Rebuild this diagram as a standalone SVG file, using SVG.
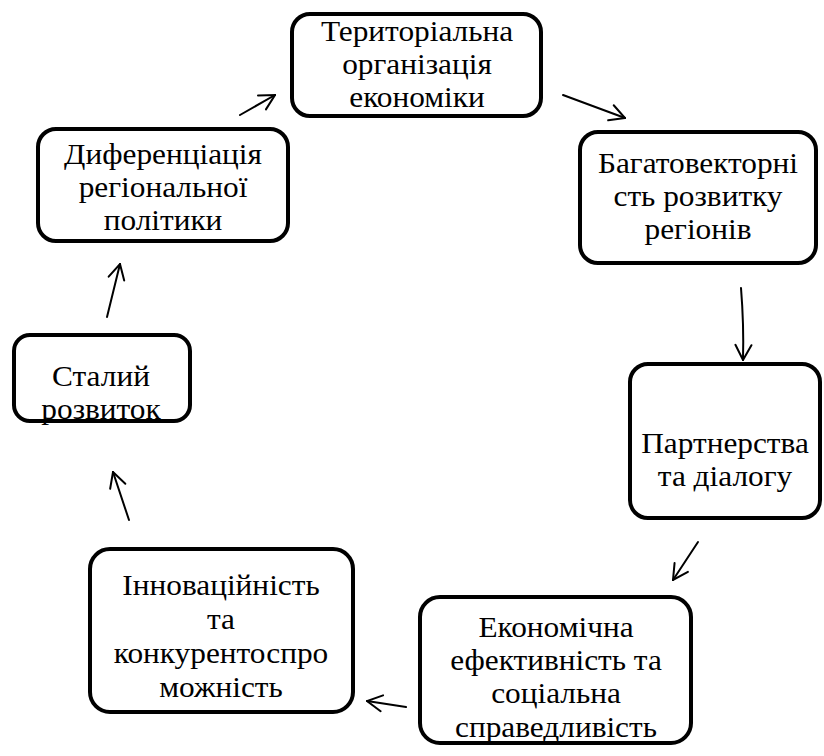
<svg xmlns="http://www.w3.org/2000/svg" width="824" height="756" viewBox="0 0 824 756">
<defs>
<style>
.box{fill:#fff;stroke:#000;stroke-width:4}
.t{font-family:'Liberation Serif','Times New Roman',serif;font-size:29px;fill:#000;text-anchor:middle}
.c{fill:none;stroke:#000;stroke-width:2;stroke-linecap:round}
</style>
<marker id="ah" markerUnits="userSpaceOnUse" viewBox="0 0 20 20" markerWidth="20" markerHeight="20" refX="19" refY="10" orient="auto">
<path d="M4,2 L19,10 L4,18" fill="none" stroke="#000" stroke-width="2" stroke-linecap="round"/>
</marker>
</defs>
<rect width="824" height="756" fill="#fff"/>
<g id="n1"><rect class="box" x="292" y="14" width="249" height="102" rx="18"/>
<g class="t" font-family="Liberation Serif" transform="matrix(1.08 0 0 1 417 0)"><text x="0" y="41">Територіальна</text><text x="0" y="74">організація</text><text x="0" y="107">економіки</text></g></g>
<g id="n2"><rect class="box" x="38" y="129" width="250" height="112" rx="18"/>
<g class="t" font-family="Liberation Serif" transform="matrix(1.08 0 0 1 163 0)"><text x="0" y="164">Диференціація</text><text x="0" y="197">регіональної</text><text x="0" y="230">політики</text></g></g>
<g id="n3"><rect class="box" x="580" y="132" width="236" height="131" rx="18"/>
<g class="t" font-family="Liberation Serif" transform="matrix(1.08 0 0 1 698 0)"><text x="0" y="173">Багатовекторні</text><text x="0" y="206">сть розвитку</text><text x="0" y="239">регіонів</text></g></g>
<g id="n4"><rect class="box" x="14" y="335" width="176" height="86" rx="16"/>
<g class="t" font-family="Liberation Serif" transform="matrix(1.08 0 0 1 101 0)"><text x="0" y="386">Сталий</text><text x="0" y="419">розвиток</text></g></g>
<g id="n5"><rect class="box" x="630" y="364" width="190" height="154" rx="18"/>
<g class="t" font-family="Liberation Serif" transform="matrix(1.08 0 0 1 725 0)"><text x="0" y="453">Партнерства</text><text x="0" y="486">та діалогу</text></g></g>
<g id="n6"><rect class="box" x="90" y="549" width="263" height="163" rx="20"/>
<g class="t" font-family="Liberation Serif" transform="matrix(1.08 0 0 1 221 0)"><text x="0" y="595">Інноваційність</text><text x="0" y="629">та</text><text x="0" y="663">конкурентоспро</text><text x="0" y="697">можність</text></g></g>
<g id="n7"><rect class="box" x="420" y="597" width="271" height="146" rx="20"/>
<g class="t" font-family="Liberation Serif" transform="matrix(1.08 0 0 1 556 0)"><text x="0" y="637">Економічна</text><text x="0" y="670">ефективність та</text><text x="0" y="703">соціальна</text><text x="0" y="737">справедливість</text></g></g>
<g id="connectors">
<path class="c" d="M240,115 L275,95" marker-end="url(#ah)"/>
<path class="c" d="M563,95 L625,118" marker-end="url(#ah)"/>
<path class="c" d="M741,288 Q744,325 743,360" marker-end="url(#ah)"/>
<path class="c" d="M698,542 L673,580" marker-end="url(#ah)"/>
<path class="c" d="M406,707 L367,701" marker-end="url(#ah)"/>
<path class="c" d="M129,520 L113,472" marker-end="url(#ah)"/>
<path class="c" d="M107,317 L120,264" marker-end="url(#ah)"/>
</g>
</svg>
